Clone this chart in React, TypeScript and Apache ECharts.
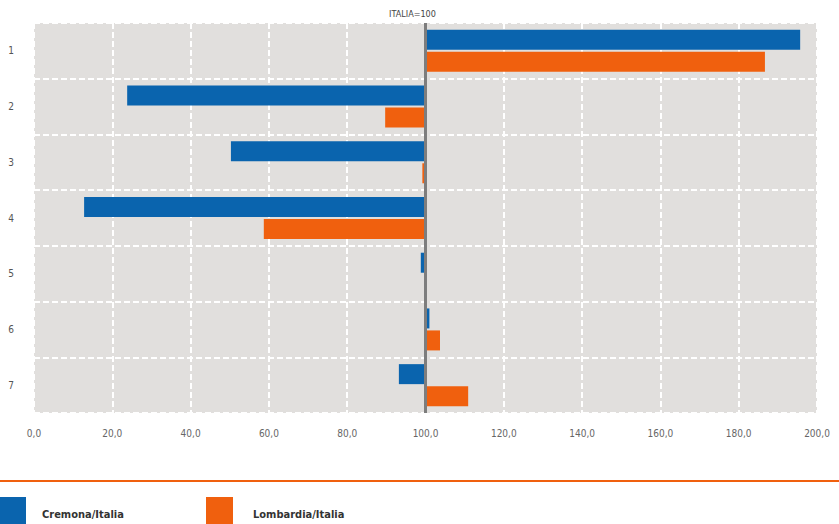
import React, { useEffect, useRef } from "react";
import * as echarts from "echarts";

const categories = ["1", "2", "3", "4", "5", "6", "7"];
const cremona = [195.7, 23.8, 50.3, 12.8, 98.8, 101.0, 93.2];
const lombardia = [186.7, 89.7, 99.2, 58.7, 100.2, 103.7, 110.9];
const baseValue = 100;
const seriesNames = ["Cremona/Italia", "Lombardia/Italia"];

const BLUE = "#0a64ae";
const ORANGE = "#f0600e";

function makeRender(offsetTop: number, h: number) {
  return (params: any, api: any) => {
    const cat = api.value(0);
    const v = api.value(1);
    const a = api.coord([baseValue, cat]);
    const b = api.coord([v, cat]);
    const x0 = Math.min(a[0], b[0]);
    const w = Math.abs(b[0] - a[0]);
    return {
      type: "rect",
      shape: { x: x0, y: a[1] + offsetTop, width: w, height: h },
      style: { fill: api.visual("color") },
    };
  };
}

export default function App() {
  const ref = useRef<HTMLDivElement>(null);
  useEffect(() => {
    if (!ref.current) return;
    const chart = echarts.init(ref.current, null, { renderer: "svg" });
    chart.setOption({
      animation: false,
      backgroundColor: "#ffffff",
      grid: {
        left: 34,
        right: 22,
        top: 23,
        bottom: 111,
        show: true,
        backgroundColor: "#e1dfdd",
        borderWidth: 0,
      },
      xAxis: {
        type: "value",
        min: 0,
        max: 200,
        interval: 20,
        axisLine: { show: false },
        axisTick: { show: false },
        axisLabel: {
          margin: 15,
          color: "#666",
          fontSize: 10,
          fontFamily: "DejaVu Sans Condensed, sans-serif",
          formatter: (v: number) => v.toFixed(1).replace(".", ","),
        },
        splitLine: { show: true, lineStyle: { color: "#ffffff", width: 2, type: [6, 3] } },
      },
      yAxis: {
        type: "category",
        data: categories,
        inverse: true,
        axisLine: { show: false },
        axisTick: { show: false },
        axisLabel: {
          margin: 20,
          color: "#555",
          fontSize: 10,
          fontFamily: "DejaVu Sans Condensed, sans-serif",
        },
        splitLine: { show: true, lineStyle: { color: "#ffffff", width: 2, type: [6, 3] } },
      },
      series: [
        {
          name: seriesNames[0],
          type: "custom",
          color: BLUE,
          renderItem: makeRender(-21, 20),
          encode: { x: 1, y: 0 },
          data: cremona.map((v, i) => [i, v]),
          z: 3,
        },
        {
          name: seriesNames[1],
          type: "custom",
          color: ORANGE,
          renderItem: makeRender(1, 20),
          encode: { x: 1, y: 0 },
          data: lombardia.map((v, i) => [i, v]),
          z: 3,
          markLine: {
            silent: true,
            symbol: "none",
            z: 5,
            lineStyle: { color: "#7d7d7d", width: 3, type: "solid" },
            label: {
              show: true,
              position: "start",
              formatter: "ITALIA=100",
              color: "#444",
              fontSize: 9,
              fontFamily: "DejaVu Sans Condensed, sans-serif",
              offset: [-13, 0],
            },
            data: [{ xAxis: baseValue }],
          },
        },
      ],
      graphic: [
        {
          type: "line",
          shape: { x1: 0, y1: 481, x2: 839, y2: 481 },
          style: { stroke: ORANGE, lineWidth: 2 },
        },
        { type: "rect", shape: { x: 0, y: 497, width: 26, height: 27 }, style: { fill: BLUE } },
        {
          type: "text",
          x: 42,
          y: 514,
          style: {
            text: seriesNames[0],
            fill: "#333",
            fontSize: 11,
            fontWeight: "bold",
            fontFamily: "DejaVu Sans Condensed, sans-serif",
            verticalAlign: "middle",
          },
        },
        { type: "rect", shape: { x: 206, y: 497, width: 27, height: 27 }, style: { fill: ORANGE } },
        {
          type: "text",
          x: 253,
          y: 514,
          style: {
            text: seriesNames[1],
            fill: "#333",
            fontSize: 11,
            fontWeight: "bold",
            fontFamily: "DejaVu Sans Condensed, sans-serif",
            verticalAlign: "middle",
          },
        },
      ],
    });
    return () => chart.dispose();
  }, []);
  return (
    <div
      ref={ref}
      style={{ position: "fixed", left: 0, top: 0, width: 839, height: 524 }}
    />
  );
}
